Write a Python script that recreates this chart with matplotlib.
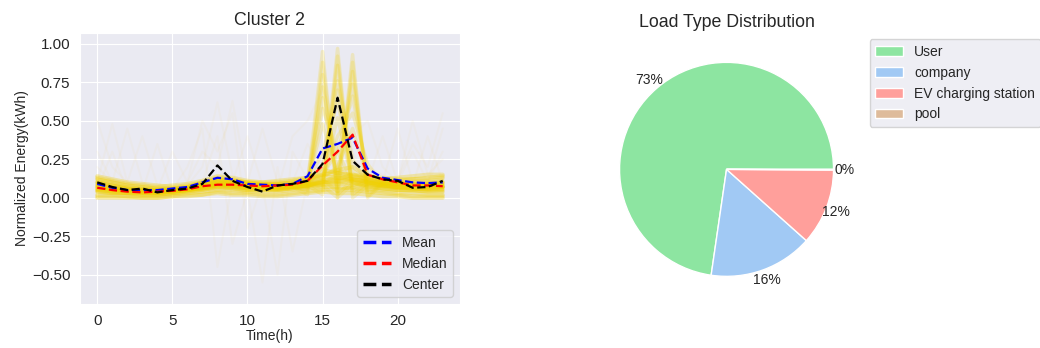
import matplotlib
matplotlib.use('Agg')
import matplotlib.pyplot as plt
import seaborn as sns

sns.set_style('darkgrid')
plt.rcParams['font.family'] = ['Liberation Sans', 'DejaVu Sans']

hours = list(range(24))

# cluster statistics per hour
mean_curve = [0.09, 0.065, 0.05, 0.05, 0.05, 0.06, 0.07, 0.10, 0.13, 0.12, 0.09, 0.085,
              0.08, 0.09, 0.14, 0.32, 0.35, 0.39, 0.19, 0.13, 0.115, 0.10, 0.095, 0.10]
median_curve = [0.065, 0.05, 0.04, 0.035, 0.04, 0.045, 0.055, 0.075, 0.085, 0.085, 0.08, 0.075,
                0.08, 0.085, 0.11, 0.21, 0.30, 0.41, 0.15, 0.12, 0.10, 0.08, 0.08, 0.075]
center_curve = [0.10, 0.07, 0.05, 0.06, 0.035, 0.05, 0.06, 0.09, 0.21, 0.11, 0.07, 0.04,
                0.08, 0.09, 0.11, 0.22, 0.65, 0.24, 0.15, 0.12, 0.11, 0.065, 0.07, 0.11]

# flat daily profiles of the cluster
base_profiles = [
    [0.10, 0.08, 0.06, 0.05, 0.05, 0.05, 0.06, 0.08, 0.10, 0.09, 0.08, 0.07, 0.07, 0.08, 0.09, 0.10, 0.11, 0.12, 0.10, 0.09, 0.08, 0.08, 0.09, 0.10],
    [0.05, 0.04, 0.03, 0.03, 0.03, 0.04, 0.05, 0.06, 0.08, 0.08, 0.07, 0.07, 0.06, 0.07, 0.08, 0.09, 0.10, 0.11, 0.09, 0.08, 0.07, 0.06, 0.06, 0.06],
    [0.12, 0.10, 0.08, 0.07, 0.06, 0.06, 0.07, 0.10, 0.13, 0.12, 0.10, 0.09, 0.09, 0.10, 0.12, 0.14, 0.13, 0.12, 0.11, 0.10, 0.11, 0.12, 0.12, 0.13],
    [0.02, 0.02, 0.01, 0.01, 0.01, 0.02, 0.03, 0.04, 0.05, 0.05, 0.04, 0.04, 0.04, 0.05, 0.06, 0.07, 0.07, 0.06, 0.05, 0.04, 0.03, 0.03, 0.02, 0.02],
    [0.08, 0.06, 0.05, 0.04, 0.04, 0.05, 0.06, 0.09, 0.12, 0.10, 0.08, 0.08, 0.07, 0.08, 0.10, 0.15, 0.18, 0.20, 0.14, 0.11, 0.10, 0.09, 0.08, 0.08],
    [0.06, 0.05, 0.05, 0.05, 0.04, 0.04, 0.05, 0.07, 0.09, 0.11, 0.09, 0.08, 0.08, 0.07, 0.08, 0.10, 0.12, 0.15, 0.12, 0.10, 0.09, 0.08, 0.07, 0.07],
    [0.14, 0.12, 0.10, 0.09, 0.08, 0.07, 0.08, 0.10, 0.12, 0.11, 0.10, 0.10, 0.11, 0.12, 0.13, 0.15, 0.16, 0.14, 0.13, 0.12, 0.13, 0.14, 0.15, 0.15],
    [0.04, 0.03, 0.03, 0.02, 0.02, 0.03, 0.04, 0.05, 0.07, 0.06, 0.05, 0.05, 0.05, 0.06, 0.07, 0.08, 0.09, 0.10, 0.08, 0.06, 0.05, 0.05, 0.04, 0.04],
    [0.00, 0.00, 0.00, 0.00, 0.00, 0.01, 0.02, 0.02, 0.03, 0.02, 0.02, 0.01, 0.01, 0.02, 0.03, 0.04, 0.03, 0.03, 0.02, 0.01, 0.01, 0.00, 0.00, 0.00],
    [0.13, 0.11, 0.09, 0.08, 0.07, 0.08, 0.09, 0.11, 0.14, 0.13, 0.11, 0.10, 0.10, 0.11, 0.13, 0.18, 0.16, 0.15, 0.14, 0.13, 0.12, 0.12, 0.13, 0.14],
    [0.07, 0.06, 0.04, 0.04, 0.03, 0.04, 0.05, 0.07, 0.09, 0.08, 0.06, 0.06, 0.06, 0.07, 0.08, 0.11, 0.13, 0.12, 0.10, 0.08, 0.07, 0.06, 0.06, 0.07],
    [0.01, 0.01, 0.01, 0.00, 0.00, 0.01, 0.01, 0.02, 0.04, 0.03, 0.03, 0.02, 0.02, 0.03, 0.04, 0.05, 0.06, 0.05, 0.04, 0.03, 0.02, 0.01, 0.01, 0.01],
]

# profiles with one afternoon peak
peak_profiles = [
    [0.09, 0.07, 0.05, 0.05, 0.04, 0.05, 0.06, 0.08, 0.10, 0.09, 0.08, 0.07, 0.07, 0.08, 0.10, 0.95, 0.02, 0.12, 0.10, 0.09, 0.08, 0.08, 0.08, 0.09],
    [0.06, 0.05, 0.04, 0.04, 0.03, 0.04, 0.05, 0.06, 0.08, 0.07, 0.07, 0.06, 0.06, 0.07, 0.05, 0.88, 0.04, 0.08, 0.08, 0.07, 0.06, 0.06, 0.06, 0.07],
    [0.08, 0.06, 0.05, 0.04, 0.04, 0.05, 0.06, 0.07, 0.09, 0.08, 0.08, 0.07, 0.07, 0.07, 0.02, 0.80, 0.00, 0.09, 0.09, 0.08, 0.07, 0.07, 0.07, 0.08],
    [0.11, 0.09, 0.07, 0.06, 0.06, 0.06, 0.07, 0.09, 0.12, 0.11, 0.10, 0.09, 0.09, 0.10, 0.12, 0.72, 0.18, 0.14, 0.12, 0.11, 0.10, 0.10, 0.10, 0.11],
    [0.05, 0.04, 0.03, 0.03, 0.03, 0.04, 0.05, 0.06, 0.07, 0.07, 0.06, 0.06, 0.05, 0.06, 0.06, 0.65, 0.10, 0.07, 0.07, 0.06, 0.05, 0.05, 0.05, 0.05],
    [0.04, 0.03, 0.03, 0.02, 0.02, 0.03, 0.04, 0.05, 0.07, 0.06, 0.05, 0.05, 0.05, 0.06, 0.08, 0.58, 0.30, 0.10, 0.07, 0.06, 0.05, 0.05, 0.04, 0.05],
    [0.10, 0.08, 0.06, 0.06, 0.05, 0.05, 0.06, 0.08, 0.11, 0.10, 0.09, 0.08, 0.08, 0.09, 0.10, 0.48, 0.15, 0.12, 0.11, 0.10, 0.09, 0.09, 0.09, 0.10],
    [0.08, 0.06, 0.05, 0.04, 0.04, 0.05, 0.06, 0.08, 0.09, 0.09, 0.08, 0.08, 0.07, 0.08, 0.09, 0.05, 0.97, 0.02, 0.10, 0.09, 0.08, 0.08, 0.08, 0.08],
    [0.10, 0.08, 0.06, 0.05, 0.05, 0.05, 0.06, 0.09, 0.11, 0.10, 0.09, 0.08, 0.08, 0.09, 0.11, 0.10, 0.86, 0.08, 0.12, 0.10, 0.09, 0.09, 0.09, 0.10],
    [0.07, 0.05, 0.04, 0.04, 0.04, 0.04, 0.05, 0.07, 0.08, 0.08, 0.07, 0.07, 0.06, 0.07, 0.08, 0.02, 0.92, 0.00, 0.08, 0.08, 0.07, 0.07, 0.07, 0.07],
    [0.05, 0.04, 0.04, 0.03, 0.03, 0.04, 0.05, 0.06, 0.08, 0.07, 0.06, 0.06, 0.06, 0.07, 0.08, 0.20, 0.76, 0.25, 0.09, 0.07, 0.06, 0.06, 0.05, 0.06],
    [0.09, 0.07, 0.06, 0.05, 0.05, 0.05, 0.06, 0.08, 0.10, 0.09, 0.08, 0.08, 0.08, 0.08, 0.10, 0.08, 0.70, 0.06, 0.11, 0.09, 0.09, 0.08, 0.08, 0.09],
    [0.07, 0.05, 0.05, 0.04, 0.04, 0.04, 0.05, 0.07, 0.09, 0.08, 0.07, 0.07, 0.07, 0.07, 0.09, 0.30, 0.62, 0.18, 0.10, 0.08, 0.07, 0.07, 0.07, 0.07],
    [0.04, 0.03, 0.03, 0.03, 0.02, 0.03, 0.04, 0.05, 0.06, 0.06, 0.05, 0.05, 0.05, 0.06, 0.07, 0.12, 0.52, 0.10, 0.06, 0.05, 0.05, 0.04, 0.04, 0.04],
    [0.09, 0.07, 0.06, 0.05, 0.05, 0.05, 0.06, 0.08, 0.10, 0.09, 0.09, 0.08, 0.08, 0.08, 0.10, 0.12, 0.04, 0.93, 0.01, 0.10, 0.09, 0.09, 0.09, 0.09],
    [0.06, 0.05, 0.04, 0.04, 0.04, 0.04, 0.05, 0.07, 0.08, 0.08, 0.07, 0.07, 0.06, 0.07, 0.08, 0.10, 0.10, 0.82, 0.05, 0.08, 0.07, 0.07, 0.06, 0.07],
    [0.08, 0.06, 0.05, 0.05, 0.04, 0.05, 0.06, 0.08, 0.09, 0.09, 0.08, 0.07, 0.07, 0.08, 0.09, 0.08, 0.00, 0.88, 0.00, 0.09, 0.08, 0.08, 0.08, 0.08],
    [0.12, 0.10, 0.08, 0.07, 0.06, 0.06, 0.07, 0.10, 0.12, 0.11, 0.10, 0.09, 0.09, 0.10, 0.12, 0.15, 0.30, 0.66, 0.15, 0.12, 0.11, 0.11, 0.11, 0.12],
    [0.07, 0.06, 0.05, 0.04, 0.04, 0.05, 0.05, 0.07, 0.08, 0.08, 0.07, 0.07, 0.07, 0.07, 0.08, 0.10, 0.15, 0.74, 0.10, 0.08, 0.07, 0.07, 0.07, 0.07],
    [0.05, 0.04, 0.03, 0.03, 0.03, 0.04, 0.05, 0.06, 0.07, 0.07, 0.06, 0.06, 0.06, 0.07, 0.08, 0.12, 0.40, 0.55, 0.22, 0.09, 0.06, 0.06, 0.05, 0.05],
    [0.10, 0.08, 0.07, 0.06, 0.05, 0.06, 0.07, 0.09, 0.11, 0.10, 0.09, 0.09, 0.09, 0.09, 0.11, 0.13, 0.20, 0.45, 0.12, 0.10, 0.09, 0.09, 0.10, 0.10],
]

# rarer profiles, drawn fainter
outliers = [
    [0.30, 0.10, 0.05, 0.05, 0.05, 0.06, 0.08, 0.20, 0.62, 0.15, 0.08, 0.07, 0.07, 0.08, 0.10, 0.12, 0.12, 0.12, 0.10, 0.09, 0.08, 0.08, 0.10, 0.12],
    [0.10, 0.48, 0.10, 0.05, 0.05, 0.06, 0.10, 0.30, 0.20, 0.63, 0.10, 0.08, 0.07, 0.08, 0.10, 0.15, 0.14, 0.20, 0.12, 0.10, 0.45, 0.10, 0.10, 0.30],
    [0.50, 0.20, 0.10, 0.40, 0.08, 0.06, 0.07, 0.10, 0.15, 0.12, 0.10, 0.45, 0.10, 0.10, 0.35, 0.20, 0.15, 0.30, 0.10, 0.10, 0.12, 0.35, 0.20, 0.55],
    [0.08, 0.06, 0.05, 0.05, 0.04, 0.05, 0.20, 0.45, -0.45, 0.10, 0.40, 0.08, -0.50, 0.30, 0.12, 0.40, 0.20, 0.15, 0.10, 0.40, 0.10, 0.50, 0.15, 0.25],
    [0.05, 0.30, 0.04, 0.04, 0.35, 0.04, 0.05, 0.10, 0.40, -0.30, 0.05, -0.55, 0.20, -0.35, 0.10, 0.45, 0.60, 0.40, 0.50, 0.20, 0.10, 0.08, 0.40, 0.10],
    [0.20, 0.10, 0.45, 0.10, 0.05, 0.30, 0.10, 0.50, 0.30, 0.55, -0.20, 0.10, 0.05, 0.40, 0.50, 0.70, 0.50, 0.60, 0.20, 0.15, 0.10, 0.30, 0.10, 0.45],
]

load_types = ['User', 'company', 'EV charging station', 'pool']
load_share = [72.7, 15.7, 11.5, 0.1]
pie_colors = ['#8de5a1', '#a1c9f4', '#ff9f9b', '#debb9b']

fig = plt.figure(figsize=(10.4, 3.48), dpi=100)

# left: cluster profiles
ax = fig.add_axes([0.0769, 0.1264, 0.3654, 0.7787])
for p in outliers:
    ax.plot(hours, p, color='#f0b800', alpha=0.035, lw=1.5)
for p in base_profiles:
    ax.plot(hours, p, color='#f2d000', alpha=0.3, lw=3)
for p in peak_profiles:
    ax.plot(hours, p, color='#f2d000', alpha=0.2, lw=2.5)
ax.plot(hours, mean_curve, '--', color='blue', lw=1.6, label='Mean')
ax.plot(hours, median_curve, '--', color='red', lw=1.6, label='Median')
ax.plot(hours, center_curve, '--', color='black', lw=1.6, label='Center')
ax.set_xlim(-1.15, 24.15)
ax.set_ylim(-0.69, 1.07)
ax.set_xticks([0, 5, 10, 15, 20])
ax.set_yticks([-0.5, -0.25, 0, 0.25, 0.5, 0.75, 1.0])
ax.tick_params(labelsize=11)
ax.set_title('Cluster 2', fontsize=12.8)
ax.set_xlabel('Time(h)', fontsize=10, labelpad=1)
ax.set_ylabel('Normalized Energy(kWh)', fontsize=10, labelpad=2)
leg = ax.legend(loc='lower right', fontsize=10)
for line in leg.get_lines():
    line.set_linewidth(2.5)

# right: share of load types
ax2 = fig.add_axes([0.570, 0.129, 0.2572, 0.7687])
ax2.pie(load_share, colors=pie_colors, autopct='%.0f%%', pctdistance=1.1,
        textprops={'fontsize': 10}, wedgeprops={'edgecolor': 'white', 'linewidth': 1})
ax2.set_title('Load Type Distribution', fontsize=12.8)
ax2.legend(load_types, loc='upper left', bbox_to_anchor=(1.035, 0.987),
           borderaxespad=0, fontsize=10)

fig.savefig('out.png', dpi=100)
